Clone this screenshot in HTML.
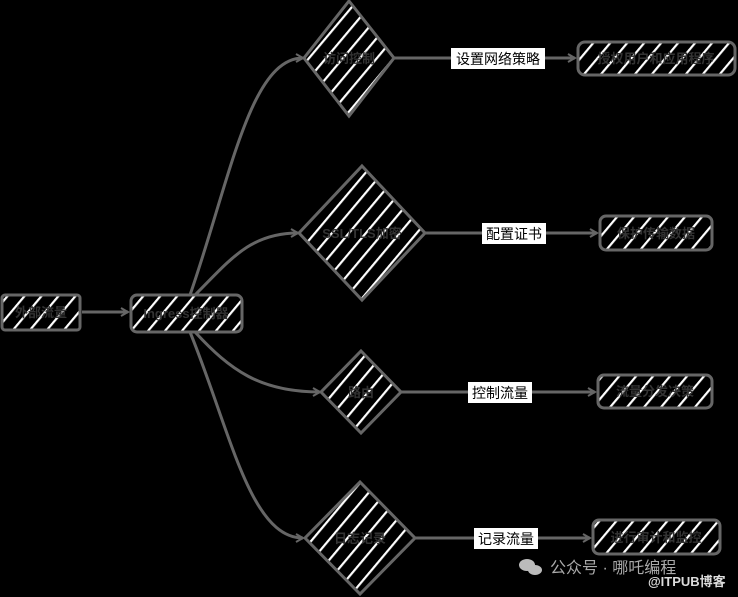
<!DOCTYPE html>
<html><head><meta charset="utf-8"><style>
html,body{margin:0;padding:0;background:#000;width:738px;height:597px;overflow:hidden}
svg{display:block}
text{font-family:"Liberation Sans","Noto Sans CJK SC",sans-serif}
</style></head><body>
<svg width="738" height="597" viewBox="0 0 738 597" xmlns="http://www.w3.org/2000/svg">
<defs>
<pattern id="h" width="13" height="13" patternUnits="userSpaceOnUse" patternTransform="rotate(40)">
<rect width="13" height="13" fill="#000"/><rect x="0" y="0" width="2.2" height="13" fill="#fff"/>
</pattern>
<marker id="a" markerWidth="10" markerHeight="10" refX="8" refY="5" orient="auto" markerUnits="userSpaceOnUse">
<path d="M1,1 L8,5 L1,9" fill="none" stroke="#666" stroke-width="2"/>
</marker>
</defs>
<g stroke="#666" stroke-width="3" fill="none">
<path d="M82,312 L128,312" marker-end="url(#a)"/>
<path d="M190,295 C230,180 250,58 303,58" marker-end="url(#a)"/>
<path d="M195,295 C230,260 250,233 298,233" marker-end="url(#a)"/>
<path d="M195,332 C230,370 260,392 320,392" marker-end="url(#a)"/>
<path d="M190,332 C230,430 250,538 303,538" marker-end="url(#a)"/>
<path d="M394,58 L575,58" marker-end="url(#a)"/>
<path d="M425,233 L597,233" marker-end="url(#a)"/>
<path d="M401,392 L595,392" marker-end="url(#a)"/>
<path d="M415,538 L590,538" marker-end="url(#a)"/>
</g>
<g stroke="#666" stroke-width="3" fill="url(#h)">
<rect x="2" y="295" width="78" height="35" rx="3"/>
<rect x="131" y="295" width="111" height="37" rx="6"/>
<rect x="578" y="42" width="157" height="33" rx="7"/>
<rect x="600" y="216" width="112" height="34" rx="6"/>
<rect x="598" y="375" width="114" height="33" rx="6"/>
<rect x="593" y="520" width="127" height="34" rx="6"/>
<polygon points="349,1 394,58 349,116 304,58"/>
<polygon points="362,166 425,233 362,300 299,233"/>
<polygon points="361,351 401,392 361,433 321,392"/>
<polygon points="360,482 415,538 360,594 305,538"/>
</g>
<g fill="#333" font-size="13" font-weight="bold" text-anchor="middle">
<text x="41" y="317">外部流量</text>
<text x="186" y="318">Ingress控制器</text>
<text x="349" y="63">访问控制</text>
<text x="362" y="238">SSL/TLS加密</text>
<text x="361" y="397">路由</text>
<text x="360" y="543">日志记录</text>
<text x="656" y="63">授权用户和应用程序</text>
<text x="656" y="238">保护传输数据</text>
<text x="655" y="396">流量分发决策</text>
<text x="656" y="542">进行审计和监控</text>
</g>
<g font-size="14" text-anchor="middle">
<rect x="451" y="48" width="94" height="21" fill="#fff"/><text x="498" y="64" fill="#000">设置网络策略</text>
<rect x="482" y="223" width="64" height="21" fill="#fff"/><text x="514" y="239" fill="#000">配置证书</text>
<rect x="468" y="382" width="64" height="21" fill="#fff"/><text x="500" y="398" fill="#000">控制流量</text>
<rect x="474" y="528" width="64" height="21" fill="#fff"/><text x="506" y="544" fill="#000">记录流量</text>
</g>
<g fill="#bbb">
<ellipse cx="527" cy="565" rx="8" ry="6"/><ellipse cx="535" cy="570" rx="7" ry="5"/>
<text x="550" y="573" font-size="16" fill="#aaa">公众号 · 哪吒编程</text>
<text x="648" y="586" font-size="13" font-weight="bold" fill="#ddd">@ITPUB博客</text>
</g>
</svg>
</body></html>
